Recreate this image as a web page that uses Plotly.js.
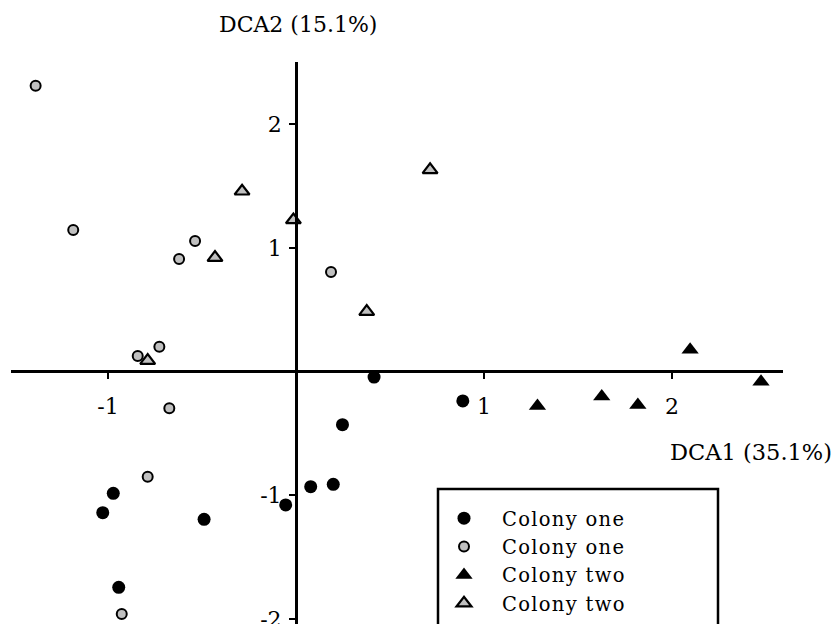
<!DOCTYPE html>
<html>
<head>
<meta charset="utf-8">
<script src="https://cdn.plot.ly/plotly-3.0.1.min.js"></script>
<style>
html,body{margin:0;padding:0;background:#fff;overflow:hidden;width:835px;height:624px;}
#chart{width:835px;height:660px;}
.legendtext{letter-spacing:1.3px;}
</style>
</head>
<body>
<div id="chart"></div>
<script>
// ---- data ----
const seriesNames = ["Colony one", "Colony one", "Colony two", "Colony two"];

const oneBlackX = [0.415, 0.247, 0.078, 0.198, -0.055, -0.972, -1.028, -0.489, -0.943, 0.887];
const oneBlackY = [-0.045, -0.430, -0.931, -0.912, -1.079, -0.985, -1.141, -1.195, -1.745, -0.238];

const oneGrayX = [-1.385, -1.185, -0.537, -0.622, 0.186, -0.727, -0.842, -0.674, -0.789, -0.927];
const oneGrayY = [2.310, 1.144, 1.055, 0.909, 0.804, 0.200, 0.125, -0.297, -0.850, -1.960];

const twoBlackX = [2.096, 2.473, 1.284, 1.626, 1.818];
const twoBlackY = [0.175, -0.082, -0.278, -0.203, -0.270];

const twoGrayX = [0.713, -0.287, -0.014, -0.431, 0.376, -0.789];
const twoGrayY = [1.630, 1.457, 1.225, 0.921, 0.484, 0.088];

const xTickVals = [-1, 1, 2];
const xTickText = ["-1", "1", "2"];
const yTickVals = [-2, -1, 1, 2];
const yTickText = ["-2", "-1", "1", "2"];

const xTitle = "DCA1 (35.1%)";
const yTitle = "DCA2 (15.1%)";

// ---- layout geometry ----
// the figure is drawn a little taller than the window; the window shows the top 624 px
const W = 835, H = 660;
const mL = 11, mR = 52, mT = 62, mB = 0;
const xMin = -1.516, xMax = 2.590, yMax = 2.502;
const yUnitPx = 123.7, yZeroPx = 371.5;
const yMin = -(H - mB - yZeroPx) / yUnitPx;
const plotW = W - mL - mR, plotH = H - mT - mB;
const px2paperX = p => (p - mL) / plotW;
const py2paperY = p => (H - mB - p) / plotH;

const FONT = "DejaVu Serif";
const GRAY = "#c0c0c0";

const traces = [
  {x: oneBlackX, y: oneBlackY, name: seriesNames[0], type: "scatter", mode: "markers",
   marker: {symbol: "circle", size: 13, color: "#000"}},
  {x: oneGrayX, y: oneGrayY, name: seriesNames[1], type: "scatter", mode: "markers",
   marker: {symbol: "circle", size: 10, color: GRAY, line: {color: "#000", width: 2}}},
  {x: twoBlackX, y: twoBlackY, name: seriesNames[2], type: "scatter", mode: "markers",
   marker: {symbol: "triangle-up", size: 15, color: "#000"}},
  {x: twoGrayX, y: twoGrayY, name: seriesNames[3], type: "scatter", mode: "markers",
   marker: {symbol: "triangle-up", size: 13, color: GRAY, line: {color: "#000", width: 2.2}}}
];

const axisCommon = {
  showgrid: false, zeroline: false, showline: true, linecolor: "#000", linewidth: 2.5,
  ticks: "outside", ticklen: 6, tickwidth: 2, tickcolor: "#000",
  anchor: "free", automargin: false, fixedrange: true,
  tickfont: {family: FONT, size: 22, color: "#000"}
};

const layout = {
  width: W, height: H,
  margin: {l: mL, r: mR, t: mT, b: mB, pad: 0},
  paper_bgcolor: "#fff", plot_bgcolor: "#fff",
  font: {family: FONT, size: 22, color: "#000"},
  showlegend: true,
  xaxis: Object.assign({}, axisCommon, {
    range: [xMin, xMax], tickmode: "array", tickvals: xTickVals, ticktext: xTickText,
    position: (0 - yMin) / (yMax - yMin), ticklabelstandoff: 9
  }),
  yaxis: Object.assign({}, axisCommon, {
    range: [yMin, yMax], tickmode: "array", tickvals: yTickVals, ticktext: yTickText,
    position: (0 - xMin) / (xMax - xMin), ticklabelstandoff: 3
  }),
  legend: {
    x: px2paperX(426), y: py2paperY(499), xanchor: "left", yanchor: "top",
    bgcolor: "rgba(0,0,0,0)", borderwidth: 0, itemwidth: 66,
    font: {family: FONT, size: 19.5, color: "#000"},
    traceorder: "normal", itemclick: false, itemdoubleclick: false
  },
  shapes: [{
    type: "rect", xref: "paper", yref: "paper",
    x0: px2paperX(438), x1: px2paperX(718), y0: py2paperY(655), y1: py2paperY(489),
    line: {color: "#000", width: 2.5}, fillcolor: "rgba(0,0,0,0)", layer: "above"
  }],
  annotations: [
    {text: yTitle, xref: "paper", yref: "paper", x: px2paperX(298), y: py2paperY(25),
     xanchor: "center", yanchor: "middle", showarrow: false,
     font: {family: FONT, size: 22, color: "#000"}},
    {text: xTitle, xref: "paper", yref: "paper", x: px2paperX(751), y: py2paperY(452),
     xanchor: "center", yanchor: "middle", showarrow: false,
     font: {family: FONT, size: 22.5, color: "#000"}}
  ]
};

Plotly.newPlot("chart", traces, layout, {displayModeBar: false, staticPlot: true});
</script>
</body>
</html>
